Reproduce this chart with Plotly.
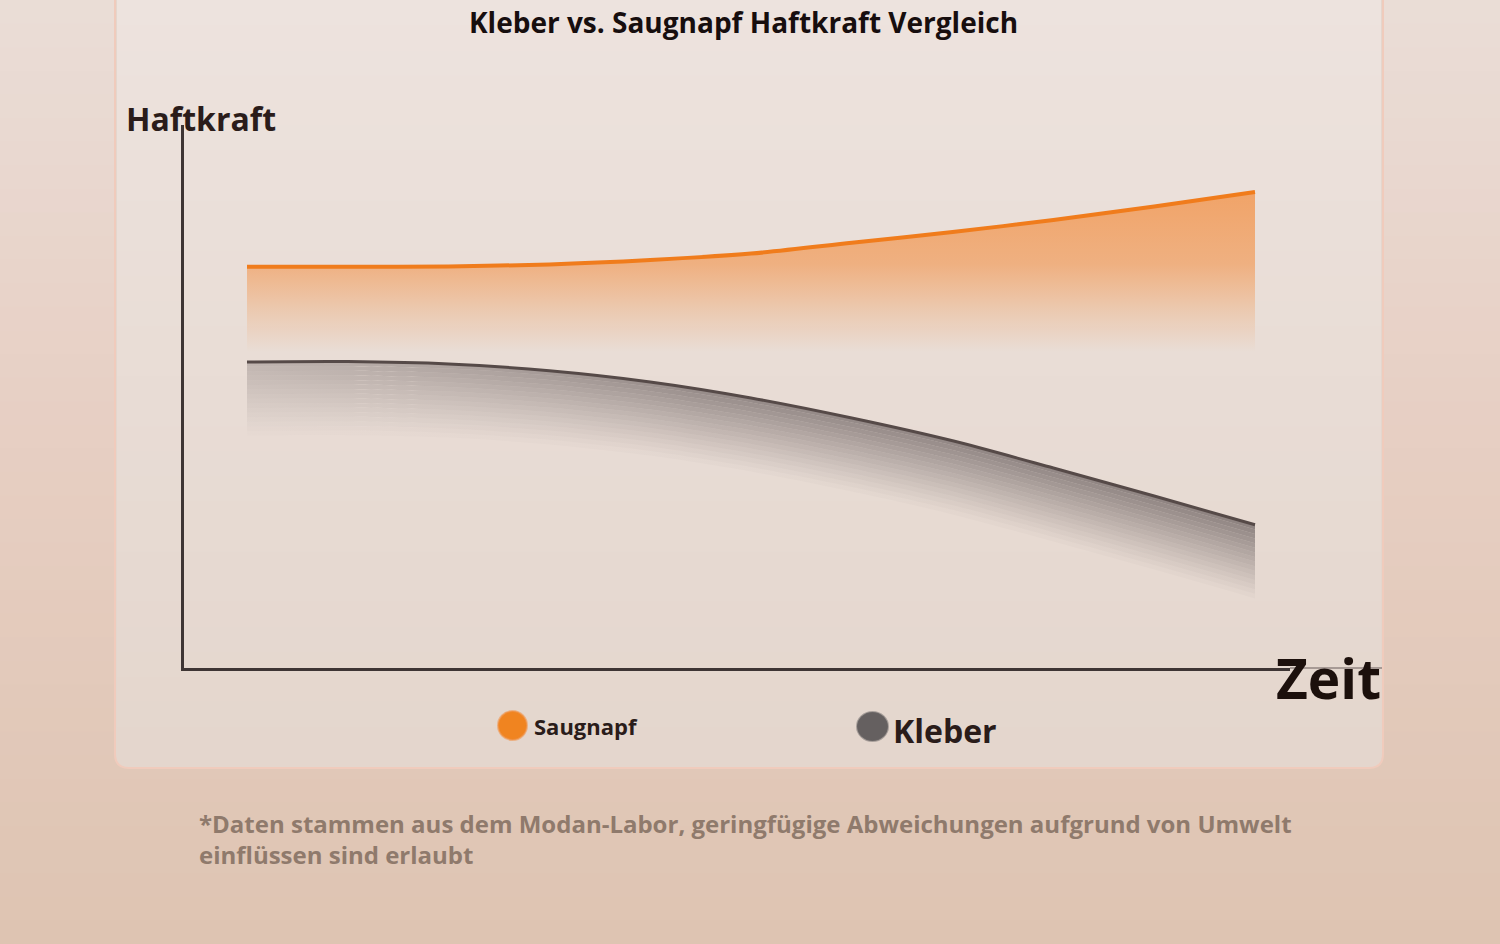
import plotly.graph_objects as go

zeit = [0, 1, 2, 3, 4, 5, 6, 7, 8, 9, 10]
saugnapf = [10.03, 10.03, 10.04, 10.09, 10.2, 10.36, 10.63, 10.9, 11.2, 11.54, 11.9]
kleber = [7.65, 7.66, 7.6, 7.43, 7.15, 6.75, 6.25, 5.68, 5.0, 4.3, 3.58]

legend_names = ["Saugnapf", "Kleber"]
title_text = "Kleber vs. Saugnapf Haftkraft Vergleich"
note_lines = ["*Daten stammen aus dem Modan-Labor, geringfügige Abweichungen aufgrund von Umwelt",
              "einflüssen sind erlaubt"]

W, H = 1500, 944
FONT = "Open Sans"


def px(x):
    return x / W


def py(y):
    return 1 - y / H


def mix(c1, c2, f):
    return "rgb(%d,%d,%d)" % tuple(round(a + (b - a) * f) for a, b in zip(c1, c2))


shapes = []

# outer background, vertical gradient in bands
top_c, mid_c, bot_c = (234, 221, 215), (231, 207, 195), (222, 196, 178)
nb = 40
for i in range(nb):
    y0, y1 = H * i / nb, H * (i + 1) / nb
    f = (i + 0.5) / nb
    col = mix(top_c, mid_c, f / 0.45) if f < 0.45 else mix(mid_c, bot_c, (f - 0.45) / 0.55)
    shapes.append(dict(type="rect", xref="paper", yref="paper", x0=0, x1=1,
                       y0=py(y1 + 1), y1=py(y0), fillcolor=col, line_width=0, layer="below"))

# card with rounded corners
cx0, cx1, cy0, cy1, r = 115, 1383, -20, 768, 14
card_top, card_bot = (237, 227, 222), (228, 214, 205)
path = (f"M {px(cx0)},{py(cy0)} L {px(cx1)},{py(cy0)} L {px(cx1)},{py(cy1 - r)} "
        f"Q {px(cx1)},{py(cy1)} {px(cx1 - r)},{py(cy1)} L {px(cx0 + r)},{py(cy1)} "
        f"Q {px(cx0)},{py(cy1)} {px(cx0)},{py(cy1 - r)} Z")
shapes.append(dict(type="path", xref="paper", yref="paper", path=path,
                   fillcolor=mix(card_top, card_bot, 1), line=dict(color="rgb(240,203,188)", width=2),
                   layer="below"))
for i in range(30):
    y0 = (cy1 - r - 2) * i / 30
    y1 = (cy1 - r - 2) * (i + 1) / 30
    shapes.append(dict(type="rect", xref="paper", yref="paper", x0=px(cx0 + 2), x1=px(cx1 - 2),
                       y0=py(y1 + 1), y1=py(y0), fillcolor=mix(card_top, card_bot, (i + 0.5) / 30),
                       line_width=0, layer="below"))

# legend dots
shapes.append(dict(type="circle", xref="paper", yref="paper",
                   x0=px(498), x1=px(527), y0=py(740), y1=py(711),
                   fillcolor="#f08420", line=dict(color="rgba(240,150,80,0.6)", width=2)))
shapes.append(dict(type="circle", xref="paper", yref="paper",
                   x0=px(857), x1=px(888), y0=py(741), y1=py(712),
                   fillcolor="#656060", line=dict(color="rgba(110,105,105,0.5)", width=2)))
# faint continuation of x axis under "Zeit"
shapes.append(dict(type="line", xref="paper", yref="paper", x0=px(1290), x1=px(1382),
                   y0=py(668), y1=py(668), line=dict(color="rgba(90,80,78,0.45)", width=2)))

fig = go.Figure()

# orange area: baseline + line with vertical fading gradient
base = [7.9 for _ in zeit]
fig.add_trace(go.Scatter(x=zeit, y=base, mode="lines", line=dict(width=0),
                         hoverinfo="skip", showlegend=False))
fig.add_trace(go.Scatter(
    x=zeit, y=saugnapf, mode="lines", name=legend_names[0],
    line=dict(color="#f07c1c", width=4, shape="spline", smoothing=0.8),
    fill="tonexty",
    fillgradient=dict(type="vertical", start=7.9, stop=11.9,
                      colorscale=[[0, "rgba(243,140,60,0)"], [0.25, "rgba(243,140,60,0.24)"],
                                  [0.55, "rgba(243,140,60,0.56)"], [1, "rgba(243,140,60,0.72)"]]),
    showlegend=False))

# grey shadow under Kleber line, built from thin bands
n_bands = 16
step = 0.115
fig.add_trace(go.Scatter(x=zeit, y=kleber, mode="lines",
                         line=dict(width=0, shape="spline", smoothing=0.8),
                         hoverinfo="skip", showlegend=False))
for i in range(n_bands):
    lower = [v - step * (i + 1) for v in kleber]
    a = 0.7 * (1 - i / n_bands) ** 1.1
    fig.add_trace(go.Scatter(
        x=zeit, y=lower, mode="lines", line=dict(width=0, shape="spline", smoothing=0.8),
        fill="tonexty",
        fillgradient=dict(type="horizontal",
                          colorscale=[[0, f"rgba(105,95,95,{a * 0.45:.3f})"],
                                      [0.45, f"rgba(105,95,95,{a * 0.9:.3f})"],
                                      [1, f"rgba(105,95,95,{a:.3f})"]]),
        hoverinfo="skip", showlegend=False))

fig.add_trace(go.Scatter(x=zeit, y=kleber, mode="lines", name=legend_names[1],
                         line=dict(color="#564a48", width=3, shape="spline", smoothing=0.8),
                         showlegend=False))

annotations = [
    dict(text=f"<b>{title_text}</b>", x=px(743), y=py(22), xref="paper", yref="paper",
         showarrow=False, xanchor="center", yanchor="middle",
         font=dict(family=FONT, size=28, color="#170e0e")),
    dict(text="<b>Haftkraft</b>", x=px(124), y=py(118), xref="paper", yref="paper",
         showarrow=False, xanchor="left", yanchor="middle",
         font=dict(family=FONT, size=32, color="#2a1c1a")),
    dict(text="<b>Zeit</b>", x=px(1274), y=py(677), xref="paper", yref="paper",
         showarrow=False, xanchor="left", yanchor="middle",
         font=dict(family=FONT, size=55, color="#1c100c")),
    dict(text=f"<b>{legend_names[0]}</b>", x=px(532), y=py(726), xref="paper", yref="paper",
         showarrow=False, xanchor="left", yanchor="middle",
         font=dict(family=FONT, size=22, color="#2a1c1a")),
    dict(text=f"<b>{legend_names[1]}</b>", x=px(891), y=py(730), xref="paper", yref="paper",
         showarrow=False, xanchor="left", yanchor="middle",
         font=dict(family=FONT, size=32, color="#2a1c1a")),
    dict(text="<b>" + "<br>".join(note_lines) + "</b>", x=px(197), y=py(839),
         xref="paper", yref="paper", showarrow=False,
         xanchor="left", yanchor="middle", align="left",
         font=dict(family=FONT, size=24, color="#8f7a6c")),
]

# axis origin at pixel 184, t=0 at 247, 100.8 px per unit; y=0 at 668, 40 px per unit
fig.update_layout(
    width=W, height=H,
    margin=dict(l=0, r=0, t=0, b=0),
    paper_bgcolor="rgb(228,205,192)",
    plot_bgcolor="rgba(0,0,0,0)",
    shapes=shapes,
    annotations=annotations,
    showlegend=False,
    xaxis=dict(domain=[184 / W, 1290 / W], range=[(184 - 247) / 100.8, (1290 - 247) / 100.8],
               showgrid=False, zeroline=False, showticklabels=False, ticks="",
               showline=True, linecolor="#3e3534", linewidth=2.5),
    yaxis=dict(domain=[(H - 668) / H, (H - 125) / H], range=[0, (668 - 125) / 40],
               showgrid=False, zeroline=False, showticklabels=False, ticks="",
               showline=True, linecolor="#3e3534", linewidth=2.5),
)

fig.write_html("out.html", config={"displayModeBar": False},
               post_script="document.body.style.margin='0';")
